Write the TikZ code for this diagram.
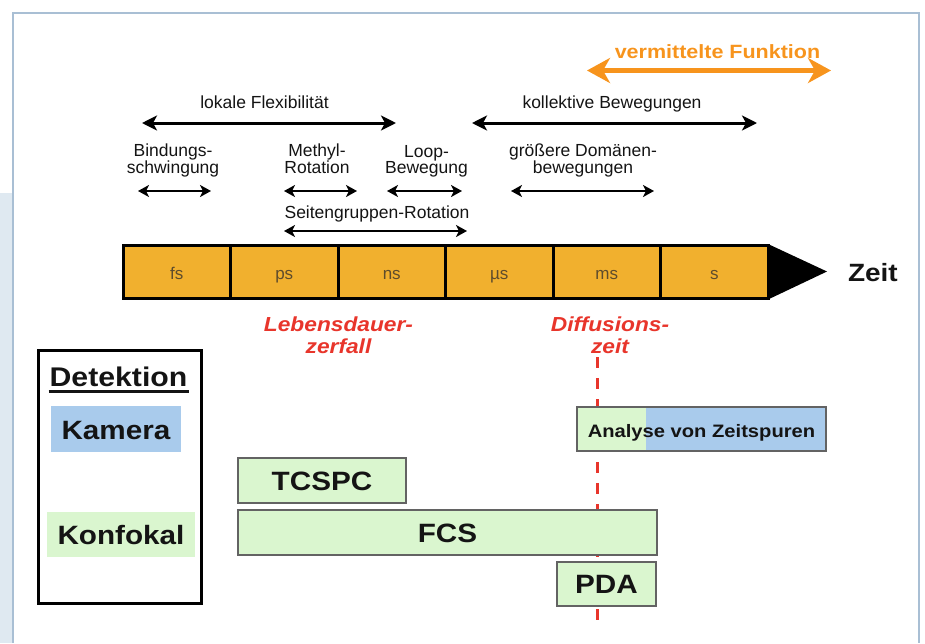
\documentclass[tikz,border=0pt]{standalone}
\usepackage{fontspec}
\setmainfont{Liberation Sans}
\newfontfamily\widefont[FakeStretch=1.12]{Liberation Sans}
\usetikzlibrary{arrows.meta,calc}
\definecolor{barorange}{HTML}{F1B02E}
\definecolor{fnorange}{HTML}{F7941D}
\definecolor{redtxt}{HTML}{E8352B}
\definecolor{kblue}{HTML}{A9CBEC}
\definecolor{kgreen}{HTML}{DAF6CF}
\definecolor{frameline}{HTML}{A9BFD4}
\definecolor{framefill}{HTML}{DFE9F1}
\definecolor{seglabel}{HTML}{5E4C2C}
\definecolor{boxline}{HTML}{636363}
\definecolor{txt}{HTML}{141414}
\begin{document}
\begin{tikzpicture}[x=1pt,y=-1pt,
  every node/.style={inner sep=0pt,outer sep=0pt},
  lbl/.style={font=\fontsize{17.5}{16}\selectfont,text=txt,align=center,anchor=base},
  redlbl/.style={font=\widefont\bfseries\itshape\fontsize{20.3}{21.5}\selectfont,text=redtxt,align=center,anchor=base},
  bigarr/.style={line width=3pt,{Stealth[length=15pt,width=15pt,inset=4pt]}-{Stealth[length=15pt,width=15pt,inset=4pt]}},
  smallarr/.style={line width=2pt,{Stealth[length=11pt,width=12pt,inset=3pt]}-{Stealth[length=11pt,width=12pt,inset=3pt]}},
  fnarr/.style={line width=5pt,fnorange,{Stealth[length=23pt,width=25pt,inset=7pt]}-{Stealth[length=23pt,width=25pt,inset=7pt]}},
  seg/.style={draw=black,line width=3pt,fill=barorange,minimum width=107.5pt,minimum height=52.5pt,
    font=\fontsize{17}{17}\selectfont,text=seglabel,text height=14.5pt,text depth=0pt},
  bigtxt/.style={font=\widefont\bfseries\fontsize{26.5}{28}\selectfont,text=txt,text height=19pt,text depth=0pt},
  tbox/.style={bigtxt,draw=boxline,line width=2pt,fill=kgreen}
]
\useasboundingbox (0,0) rectangle (925,643);
% frame
\fill[framefill] (0,193) rectangle (13,643);
\draw[frameline,line width=2pt] (13,643) -- (13,12.5) -- (918.5,12.5) -- (918.5,643);

% mediated function
\node[font=\widefont\bfseries\fontsize{19.2}{20}\selectfont,text=fnorange,anchor=base] (fn) at (717.5,58.5) {vermittelte Funktion};
\coordinate (fnL) at (587,70.5);
\coordinate (fnR) at (831,70.5);
\draw[fnarr] (fnL) -- (fnR);

% motions
\node[lbl] (lok) at (264.5,108.5) {lokale Flexibilität};
\node[lbl] (kol) at (612,108.5) {kollektive Bewegungen};
\coordinate (lokL) at (142,123); \coordinate (lokR) at (396,123);
\coordinate (kolL) at (472,123); \coordinate (kolR) at (757,123);
\draw[bigarr] (lokL) -- (lokR);
\draw[bigarr] (kolL) -- (kolR);

\node[lbl] (bind) at (173,173.5) {Bindungs-\\schwingung};
\node[lbl] (meth) at (317,173.5) {Methyl-\\Rotation};
\node[lbl] (loop) at (426.5,173.5) {Loop-\\Bewegung};
\node[lbl] (dom) at (583,173.5) {größere Domänen-\\bewegungen};
\coordinate (bindL) at (138,191); \coordinate (bindR) at (211,191);
\coordinate (methL) at (284,191); \coordinate (methR) at (357,191);
\coordinate (loopL) at (387,191); \coordinate (loopR) at (462,191);
\coordinate (domL) at (511,191); \coordinate (domR) at (654,191);
\draw[smallarr] (bindL) -- (bindR);
\draw[smallarr] (methL) -- (methR);
\draw[smallarr] (loopL) -- (loopR);
\draw[smallarr] (domL) -- (domR);
\node[lbl] (seit) at (377,218.5) {Seitengruppen-Rotation};
\coordinate (seitL) at (284,231); \coordinate (seitR) at (467,231);
\draw[smallarr] (seitL) -- (seitR);

% time bar
\node[seg] (fs) at (176.75,271.75) {fs};
\node[seg] (ps) at (284.25,271.75) {ps};
\node[seg] (ns) at (391.75,271.75) {ns};
\node[seg] (us) at (499.25,271.75) {µs};
\node[seg] (ms) at (606.75,271.75) {ms};
\node[seg] (s) at (714.25,271.75) {s};
\coordinate (tip) at (827,271.5);
\fill[black] ([yshift=1.5pt]s.north east) -- (tip) -- ([yshift=-1.5pt]s.south east) -- cycle;
\node[font=\widefont\bfseries\fontsize{25}{26}\selectfont,text=txt,anchor=base west] (zeit) at (848,281.5) {Zeit};

% red labels
\node[redlbl] (leb) at (338.5,353) {Lebensdauer-\\zerfall};
\node[redlbl] (dif) at (610,353) {Diffusions-\\zeit};
\coordinate (dash1) at (597,357);
\coordinate (dash2) at (597,623);
\draw[redtxt,line width=3pt,dash pattern=on 11pt off 10pt] (dash1) -- (dash2);

% detection legend
\node[draw=black,line width=3pt,minimum width=163pt,minimum height=253pt] (legend) at (120,477) {};
\node[font=\widefont\bfseries\fontsize{27}{28}\selectfont,text=txt,anchor=base] (det) at (118.5,386.7) {Detektion};
\draw[line width=2.5pt,txt] ([xshift=-1pt,yshift=-5pt]det.base west) -- ([xshift=2pt,yshift=-5pt]det.base east);
\node[bigtxt,fill=kblue,minimum width=130pt,minimum height=46pt,text height=21pt] (kam) at (116,429) {Kamera};
\node[bigtxt,fill=kgreen,minimum width=148pt,minimum height=45pt] (konf) at (121,534.5) {Konfokal};

% methods
\node[tbox,fill=kblue,minimum width=249pt,minimum height=44pt,
  font=\widefont\bfseries\fontsize{18}{19}\selectfont,text height=17pt,
  path picture={\fill[kgreen] (path picture bounding box.south west) rectangle ([xshift=69pt]path picture bounding box.north west);}]
  (ana) at (701.5,429) {Analyse von Zeitspuren};
\node[tbox,minimum width=168pt,minimum height=45pt] (tcspc) at (322,480.5) {TCSPC};
\node[tbox,minimum width=419pt,minimum height=45pt] (fcs) at (447.5,532.5) {FCS};
\node[tbox,minimum width=99pt,minimum height=44pt] (pda) at (606.5,584) {PDA};
\end{tikzpicture}
\end{document}
